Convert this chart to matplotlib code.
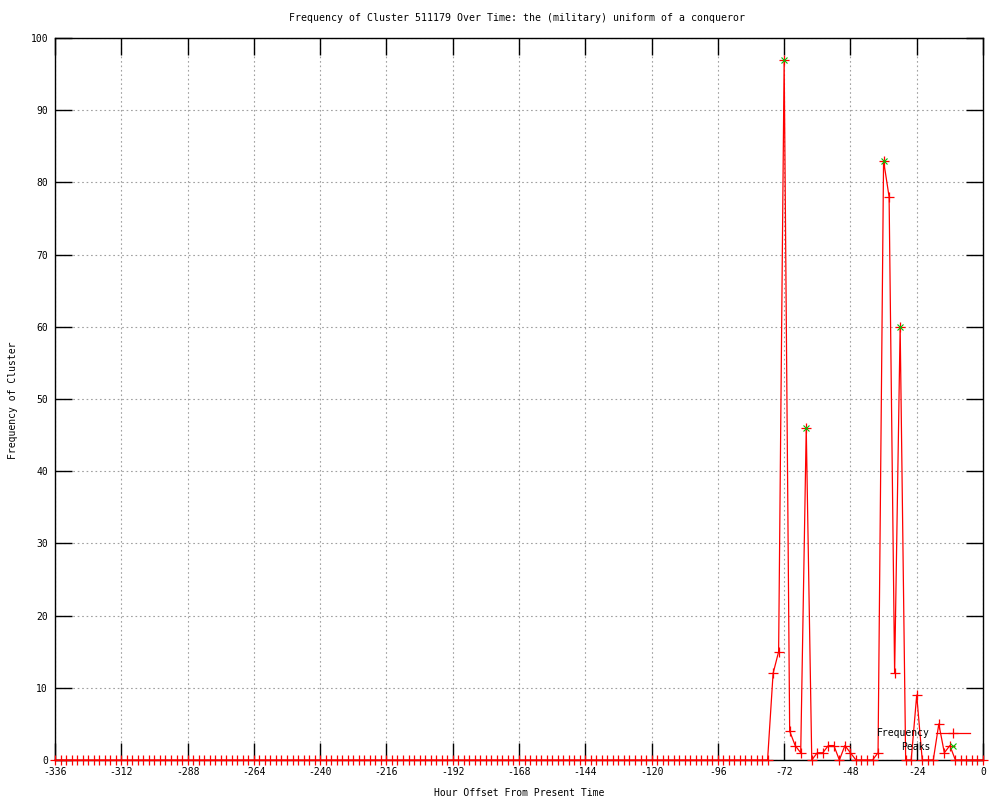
import matplotlib
matplotlib.use("Agg")
import matplotlib.pyplot as plt

# ---- data ----
hours = list(range(-336, 1, 2))
freq = [
    0, 0, 0, 0, 0, 0, 0, 0, 0, 0, 0, 0, 0, 0, 0, 0, 0, 0, 0, 0,
    0, 0, 0, 0, 0, 0, 0, 0, 0, 0, 0, 0, 0, 0, 0, 0, 0, 0, 0, 0,
    0, 0, 0, 0, 0, 0, 0, 0, 0, 0, 0, 0, 0, 0, 0, 0, 0, 0, 0, 0,
    0, 0, 0, 0, 0, 0, 0, 0, 0, 0, 0, 0, 0, 0, 0, 0, 0, 0, 0, 0,
    0, 0, 0, 0, 0, 0, 0, 0, 0, 0, 0, 0, 0, 0, 0, 0, 0, 0, 0, 0,
    0, 0, 0, 0, 0, 0, 0, 0, 0, 0, 0, 0, 0, 0, 0, 0, 0, 0, 0, 0,
    0, 0, 0, 0, 0, 0, 0, 0, 0,
    # -78 .. 0
    0, 12, 15, 97, 4, 2, 1, 46, 0, 1,
    1, 2, 2, 0, 2, 1, 0, 0, 0, 0,
    1, 83, 78, 12, 60, 0, 0, 9, 0, 0,
    0, 5, 1, 2, 0, 0, 0, 0, 0, 0,
]
peak_hours = [-72, -64, -36, -30]
peak_vals = [97, 46, 83, 60]
xticks = [-336, -312, -288, -264, -240, -216, -192, -168, -144, -120, -96, -72, -48, -24, 0]
yticks = [0, 10, 20, 30, 40, 50, 60, 70, 80, 90, 100]

title = "Frequency of Cluster 511179 Over Time: the (military) uniform of a conqueror"
xlabel = "Hour Offset From Present Time"
ylabel = "Frequency of Cluster"

# ---- style ----
plt.rcParams['font.family'] = ['DejaVu Sans Mono']
plt.rcParams['font.size'] = 7
plt.rcParams['axes.unicode_minus'] = False

fig = plt.figure(figsize=(10, 8), dpi=100)
ax = fig.add_axes([0.055, 0.05, 0.928, 0.9025])

RED = '#ff0000'
GREEN = '#00c000'

ax.plot(hours, freq, color=RED, lw=0.9, marker='+', markersize=6.5,
        markeredgewidth=0.9, label='Frequency', clip_on=False, zorder=3)
ax.plot(peak_hours, peak_vals, linestyle='none', color=GREEN, marker='x',
        markersize=5, markeredgewidth=0.8, label='Peaks', zorder=4)

ax.set_xlim(-336, 0)
ax.set_ylim(0, 100)
ax.set_xticks(xticks)
ax.set_yticks(yticks)
ax.tick_params(direction='in', length=12, width=1, top=True, right=True,
               labelsize=7, pad=5, colors='black')
ax.grid(True, color='#a0a0a0', linestyle=(0, (1.5, 2.5)), linewidth=0.8)
ax.set_axisbelow(True)
for s in ax.spines.values():
    s.set_linewidth(1)
    s.set_color('black')

fig.text(0.517, 0.9775, title, ha='center', va='center', fontsize=7.1)
fig.text(0.519, 0.009, xlabel, ha='center', va='center', fontsize=7)
fig.text(0.013, 0.5, ylabel, ha='center', va='center', rotation=90, fontsize=7)

leg = ax.legend(loc='lower right', bbox_to_anchor=(0.986, 0.0115), frameon=False,
                markerfirst=False, handlelength=3.5, handletextpad=0.6,
                borderpad=0, borderaxespad=0, labelspacing=0.35, fontsize=7,
                numpoints=1)

fig.savefig('out.png', dpi=100)
